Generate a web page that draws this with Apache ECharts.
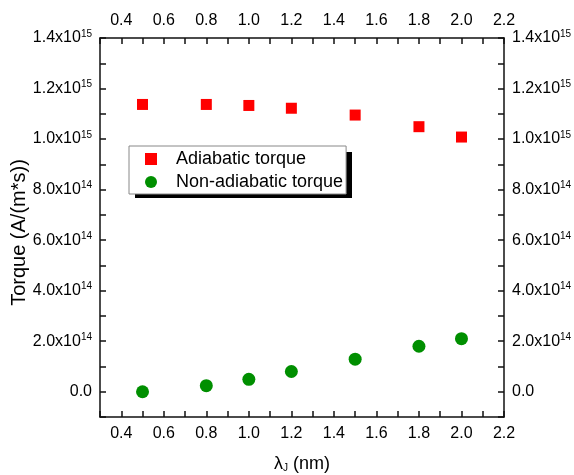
<!DOCTYPE html>
<html><head><meta charset="utf-8">
<script src="https://cdn.jsdelivr.net/npm/echarts@6/dist/echarts.min.js"></script>
<style>html,body{margin:0;padding:0;background:#fff}#c{width:574px;height:475px}</style>
</head><body><div id="c"></div>
<script>
const lambdaJ = [0.5, 0.8, 1.0, 1.2, 1.5, 1.8, 2.0];
const adiabatic = [1.137e15, 1.137e15, 1.133e15, 1.122e15, 1.095e15, 1.049e15, 1.008e15];
const nonAdiabatic = [0, 2.4e13, 4.9e13, 8.0e13, 1.29e14, 1.80e14, 2.10e14];
const xTickLabels = [0.4, 0.6, 0.8, 1.0, 1.2, 1.4, 1.6, 1.8, 2.0, 2.2];
const yTickLabels = [0, 2e14, 4e14, 6e14, 8e14, 1e15, 1.2e15, 1.4e15];
const seriesNames = ['Adiabatic torque', 'Non-adiabatic torque'];

const FONT = 'Liberation Sans, Arial, sans-serif';
function yFmt(v) {
  if (Math.abs(v) < 1) return '{b|0.0}';
  const e = Math.floor(Math.log10(v) + 1e-9);
  const m = v / Math.pow(10, e);
  return '{b|' + m.toFixed(1) + 'x10}{s|' + e + '}';
}
const yRich = {
  b: { fontSize: 16, fontFamily: FONT, color: '#000', lineHeight: 18 },
  s: { fontSize: 10, fontFamily: FONT, color: '#000', verticalAlign: 'top', lineHeight: 10 }
};
const lineStyle = { color: '#111', width: 1.5 };
function xAxisDef(pos) {
  return {
    type: 'value', position: pos, min: 0.3, max: 2.2, interval: 0.1,
    axisLine: { show: true, onZero: false, lineStyle: lineStyle },
    axisTick: { show: true, inside: true, length: 6, lineStyle: lineStyle },
    axisLabel: { customValues: xTickLabels, formatter: v => v.toFixed(1), fontSize: 16, fontFamily: FONT, color: '#000', margin: 9 },
    splitLine: { show: false }
  };
}
function yAxisDef(pos) {
  return {
    type: 'value', position: pos, min: -1e14, max: 1.4e15, interval: 1e14,
    axisLine: { show: true, onZero: false, lineStyle: lineStyle },
    axisTick: { show: true, inside: true, length: 6, lineStyle: lineStyle },
    axisLabel: { customValues: yTickLabels, formatter: yFmt, rich: yRich, margin: 8 },
    splitLine: { show: false }
  };
}
const xb = xAxisDef('bottom');
xb.name = 'λ{sub|J} (nm)';
xb.nameLocation = 'middle';
xb.nameGap = 38;
xb.nameTextStyle = { fontSize: 18, fontFamily: FONT, color: '#000', rich: { sub: { fontSize: 10, fontFamily: FONT, verticalAlign: 'bottom', lineHeight: 14 } } };
const xt = xAxisDef('top');
const yl = yAxisDef('left');
yl.name = 'Torque (A/(m*s))';
yl.nameLocation = 'middle';
yl.nameGap = 71;
yl.nameMoveOverlap = false;
yl.nameTextStyle = { fontSize: 20, fontFamily: FONT, color: '#000', padding: [0, 10, 0, 0] };
const yr = yAxisDef('right');

const chart = echarts.init(document.getElementById('c'));
chart.setOption({
  animation: false,
  backgroundColor: '#fff',
  grid: { left: 100, right: 70, top: 38, bottom: 58, outerBoundsMode: 'none', containLabel: false },
  xAxis: [xb, xt],
  yAxis: [yl, yr],
  graphic: [
    { type: 'rect', left: 135, top: 152, z: 1, silent: true,
      shape: { width: 217, height: 46 }, style: { fill: '#000' } }
  ],
  legend: {
    orient: 'vertical', left: 129, top: 146, z: 5,
    data: [
      { name: seriesNames[0], icon: 'rect' },
      { name: seriesNames[1], icon: 'circle' }
    ],
    itemWidth: 12, itemHeight: 12, itemGap: 5,
    padding: [4, 3, 3, 16],
    backgroundColor: '#fff', borderColor: '#888', borderWidth: 1,
    textStyle: { fontSize: 18, fontFamily: FONT, color: '#000', lineHeight: 17, padding: [0, 0, 0, 14] }
  },
  series: [
    { name: seriesNames[0], type: 'scatter', symbol: 'rect', symbolSize: 11, itemStyle: { color: '#ff0000', opacity: 1 },
      data: lambdaJ.map((x, i) => [x, adiabatic[i]]) },
    { name: seriesNames[1], type: 'scatter', symbol: 'circle', symbolSize: 13, itemStyle: { color: '#008f00', opacity: 1 },
      data: lambdaJ.map((x, i) => [x, nonAdiabatic[i]]) }
  ]
});
</script></body></html>
